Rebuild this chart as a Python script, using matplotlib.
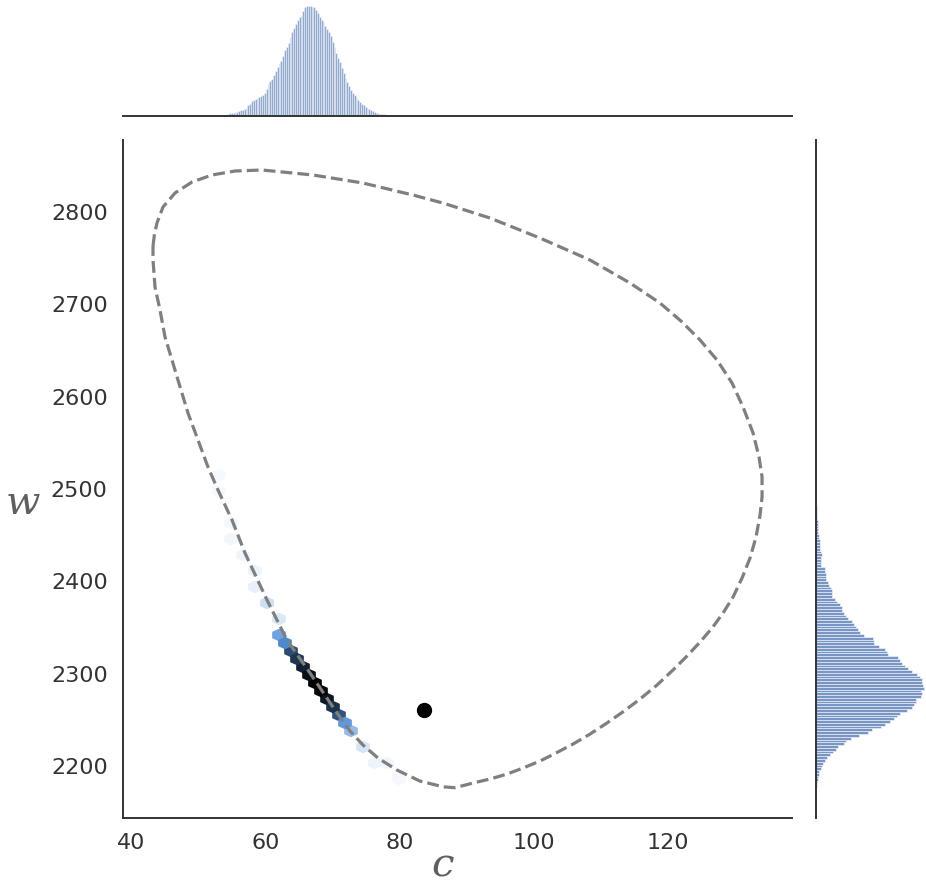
import numpy as np
import matplotlib
matplotlib.use("Agg")
import matplotlib.pyplot as plt
from matplotlib.colors import LinearSegmentedColormap

plt.rcParams["mathtext.fontset"] = "dejavuserif"

# dashed boundary curve (c, w), going clockwise
curve_c = [43.28, 43.50, 43.87, 44.77, 46.56, 49.09, 52.07, 55.49, 59.52, 67.11, 74.56,
           82.01, 86.48, 93.48, 100.93, 108.38, 114.34, 118.81, 121.94, 124.77, 127.30,
           129.54, 131.18, 132.67, 133.56, 134.01, 134.01, 133.71, 133.11, 132.22, 131.03,
           129.69, 128.20, 126.56, 124.77, 122.83, 120.75, 118.36, 115.83, 113.45, 110.91,
           108.38, 105.85, 103.32, 100.93, 98.40, 96.02, 93.48, 90.95, 88.27, 86.48,
           83.05, 79.63, 76.80, 74.56, 72.63, 70.69, 66.67, 63.24, 60.26, 56.98,
           55.05, 52.96, 51.47, 49.98, 48.49, 47.00, 46.11, 45.07, 44.32, 43.58,
           43.28, 43.28]
curve_w = [2763.2, 2776.2, 2788.1, 2805.4, 2820.6, 2832.5, 2840.1, 2844.4, 2845.5, 2840.1, 2831.4,
           2818.4, 2809.7, 2793.5, 2771.8, 2748.0, 2723.1, 2701.4, 2681.9, 2661.4, 2639.7,
           2614.8, 2588.8, 2560.6, 2534.6, 2513.0, 2491.3, 2471.8, 2448.0, 2425.3, 2403.6,
           2383.0, 2365.7, 2349.4, 2334.3, 2319.1, 2304.0, 2287.7, 2272.5, 2259.5, 2246.6,
           2234.6, 2223.8, 2214.1, 2205.4, 2197.8, 2191.3, 2185.9, 2181.6, 2176.5, 2177.5,
           2183.7, 2195.6, 2208.6, 2222.7, 2237.9, 2257.4, 2300.7, 2336.4, 2379.8, 2430.7,
           2466.4, 2498.9, 2523.8, 2553.1, 2582.3, 2618.0, 2639.7, 2664.6, 2693.9, 2718.8,
           2748.0, 2763.2]

# hexbin cells: centre and relative count
hex_c = [52.81, 53.41, 55.20, 55.79, 57.28, 58.18, 58.92, 60.71, 61.45, 62.20,
         63.24, 63.99, 64.88, 65.62, 66.67, 67.41, 68.16, 68.90, 69.65, 70.39,
         71.43, 72.18, 73.67, 75.31, 77.09, 78.29, 80.52]
hex_w = [2513.0, 2498.9, 2463.2, 2448.0, 2430.7, 2412.3, 2396.0, 2379.8, 2360.3, 2344.0,
         2333.2, 2323.4, 2314.8, 2307.2, 2298.5, 2289.9, 2280.1, 2271.5, 2263.9, 2255.2,
         2246.6, 2236.8, 2220.6, 2219.5, 2206.5, 2201.1, 2188.1]
hex_n = [1, 1, 2, 3, 4, 6, 8, 22, 16, 45,
         52, 68, 76, 84, 92, 100, 97, 88, 78, 66,
         48, 38, 18, 10, 6, 4, 1]

# single marked point
point_c = 83.65
point_w = 2260.6

# marginal histogram of c
c_lo, c_hi = 53.26, 78.93
c_counts = [1, 1, 2, 3, 5, 8, 9, 10, 11, 13, 15, 17, 19, 22, 25, 32, 37, 44, 49, 51,
            53, 56, 60, 64, 68, 82, 98, 105, 112, 124, 135, 148, 160, 166, 180, 198, 208, 220, 238, 252,
            265, 278, 290, 297, 302, 315, 328, 331, 333, 331, 330, 328, 320, 310, 298, 290, 282, 270, 261, 252,
            240, 224, 208, 190, 176, 162, 146, 130, 116, 102, 90, 78, 70, 62, 53, 48, 42, 37, 33, 28,
            24, 20, 17, 14, 12, 10, 8, 7, 6, 5, 4, 3, 2, 1]

# marginal histogram of w (low to high)
w_lo, w_hi = 2177.5, 2490.5
w_counts = [3, 4, 5, 7, 8, 10, 14, 18, 22, 27, 32, 42, 53, 60, 66, 84, 92, 105, 130, 158,
            170, 198, 210, 225, 238, 247, 255, 275, 290, 298, 302, 303, 318, 320, 318, 327, 325, 322, 320, 315,
            305, 290, 280, 270, 260, 255, 250, 218, 215, 208, 190, 176, 175, 172, 145, 132, 128, 120, 116, 108,
            98, 92, 85, 80, 78, 72, 64, 58, 50, 50, 48, 45, 40, 35, 31, 30, 30, 28, 26, 16,
            15, 15, 16, 17, 16, 12, 12, 12, 11, 9, 8, 6, 5, 5, 5, 5, 4, 3, 3, 3,
            2, 1, 1, 1]

xlim = (38.81, 138.47)
ylim = (2143.7, 2878.0)

fig = plt.figure(figsize=(9.26, 8.83), dpi=100)
ax = fig.add_axes([0.13283, 0.07361, 0.72246, 0.76784])
ax_top = fig.add_axes([0.13283, 0.86863, 0.72246, 0.13137])
ax_right = fig.add_axes([0.88121, 0.07361, 0.11879, 0.76784])

cmap = LinearSegmentedColormap.from_list(
    "hexblues", [(0, "#f6f9fd"), (0.2, "#d2e3f5"), (0.35, "#a5c6ec"), (0.5, "#5590d8"),
                 (0.7, "#274567"), (0.88, "#0d1824"), (1, "#000000")])

# hex grid: 56 x 42 cells, lined up with the densest cell
ax.hexbin(hex_c, hex_w, C=hex_n, reduce_C_function=np.max, gridsize=(56, 42),
          extent=(38.81, 138.92, 2133.93, 2861.79), cmap=cmap, vmin=0, vmax=100,
          linewidths=1.2, edgecolors="face")
ax.plot(curve_c, curve_w, "--", color="#7f7f7f", lw=2.3)
ax.plot(point_c, point_w, "o", color="black", ms=10)

ax.set_xlim(xlim)
ax.set_ylim(ylim)
ax.set_xticks([40, 60, 80, 100, 120])
ax.set_yticks([2200, 2300, 2400, 2500, 2600, 2700, 2800])
ax.tick_params(length=0, pad=11, labelsize=16, labelcolor="#333333")
for s in ["top", "right"]:
    ax.spines[s].set_visible(False)
for s in ["left", "bottom"]:
    ax.spines[s].set_color("#333333")
    ax.spines[s].set_linewidth(1.4)

ax.set_xlabel("$c$", fontsize=29, color="#5f5f5f")
ax.set_ylabel("$w$", rotation=0, fontsize=29, color="#5f5f5f")
ax.xaxis.set_label_coords(0.478, -0.069)
ax.yaxis.set_label_coords(-0.1495, 0.4646)
ax.xaxis.label.set_va("center")
ax.yaxis.label.set_va("center")
ax.yaxis.label.set_ha("center")

# top marginal
c_edges = np.linspace(c_lo, c_hi, len(c_counts) + 1)
ax_top.bar(c_edges[:-1], c_counts, width=np.diff(c_edges), align="edge",
           color="#4c72b0", alpha=0.6, edgecolor="white", linewidth=0.5)
ax_top.set_xlim(xlim)
ax_top.set_ylim(0, max(c_counts) * 1.05)

# right marginal
w_edges = np.linspace(w_lo, w_hi, len(w_counts) + 1)
ax_right.barh(w_edges[:-1], w_counts, height=np.diff(w_edges), align="edge",
              color="#4c72b0", alpha=0.75, edgecolor="white", linewidth=0.5)
ax_right.set_ylim(ylim)
ax_right.set_xlim(0, max(w_counts) * 1.02)

for a in [ax_top, ax_right]:
    a.set_xticks([])
    a.set_yticks([])
    for s in a.spines.values():
        s.set_visible(False)
ax_top.spines["bottom"].set_visible(True)
ax_top.spines["bottom"].set_color("#333333")
ax_top.spines["bottom"].set_linewidth(1.4)
ax_right.spines["left"].set_visible(True)
ax_right.spines["left"].set_color("#333333")
ax_right.spines["left"].set_linewidth(1.4)

fig.savefig("out.png", dpi=100)
